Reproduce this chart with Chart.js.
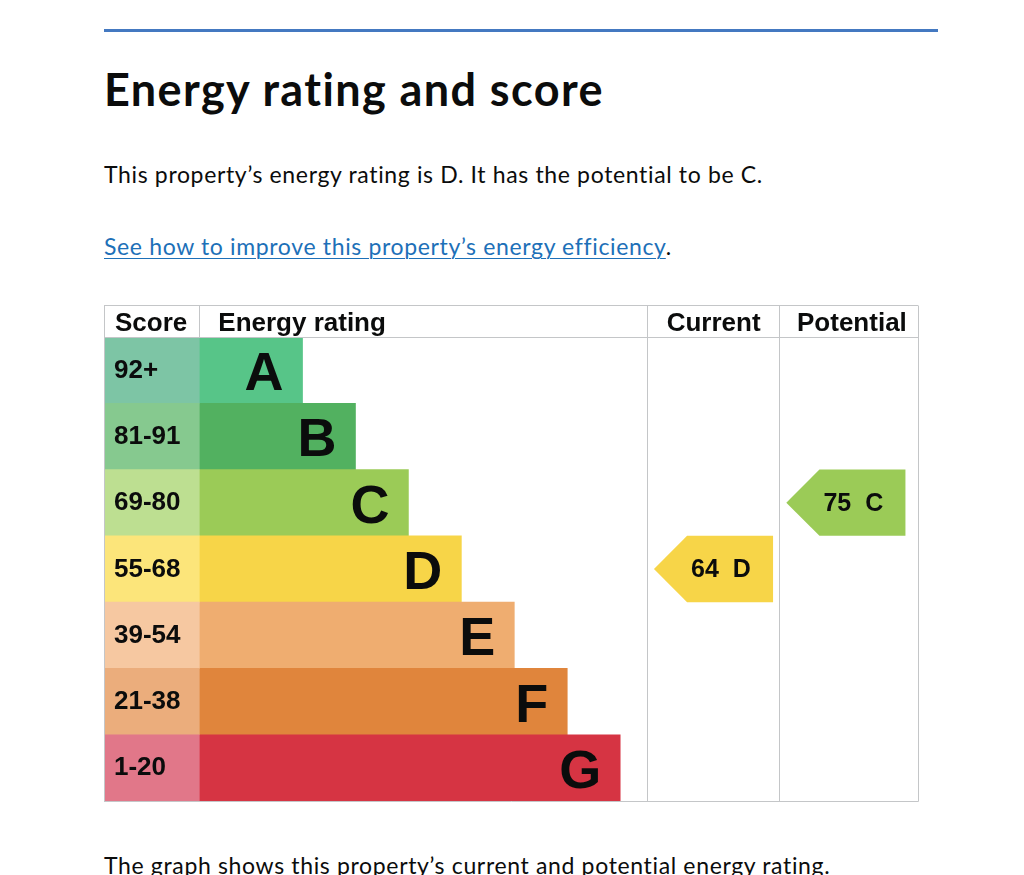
<!DOCTYPE html>
<html lang="en">
<head>
    <meta charset="UTF-8">
    <title>Energy rating and score</title>
    <script src="https://cdn.jsdelivr.net/npm/chart.js"></script>
    <style>
        body { margin: 0; background: #fff; color: #0b0c0c; font-family: Lato, Arial, sans-serif; }
        .rule { position: absolute; left: 104px; top: 29px; width: 834px; height: 3px; background: #4479c1; }
        h1 { position: absolute; left: 104px; top: 67px; margin: 0; font-size: 45px; line-height: 45px; font-weight: 700; letter-spacing: 1.4px; white-space: nowrap; }
        p { position: absolute; left: 104px; margin: 0; font-size: 23px; line-height: 23px; letter-spacing: 0.65px; white-space: nowrap; }
        a { color: #1d70b8; text-decoration: underline; text-decoration-thickness: 1px; text-underline-offset: 3px; }
        #epc { position: absolute; left: 104px; top: 305px; width: 815px; height: 497px; }
    </style>
</head>
<body>
    <div class="rule"></div>
    <h1>Energy rating and score</h1>
    <p style="top:163px">This property’s energy rating is D. It has the potential to be C.</p>
    <p style="top:235px"><a href="#">See how to improve this property’s energy efficiency</a>.</p>
    <div id="epc"><canvas id="epcChart"></canvas></div>
    <p style="top:854px">The graph shows this property’s current and potential energy rating.</p>

    <script>
        // bandas y valores del certificado
        const bands = ["A", "B", "C", "D", "E", "F", "G"];
        const scoreRanges = ["92+", "81-91", "69-80", "55-68", "39-54", "21-38", "1-20"];
        const bandMinScores = [92, 81, 69, 55, 39, 21, 1];
        const barLengths = [78, 118, 158, 198, 238, 278, 318];
        const bandColours = ["#57c588", "#52b160", "#9bcb57", "#f7d548", "#efad70", "#e0853c", "#d63443"];
        const scoreColours = ["#7dc5a5", "#86c98f", "#bddf91", "#fce57a", "#f6c8a1", "#ebad7c", "#e17789"];
        const headers = ["Score", "Energy rating", "Current", "Potential"];
        const currentScore = 64;
        const potentialScore = 75;

        const SCORE_COL = 72;
        const CURRENT_COL = [410, 510];
        const POTENTIAL_COL = [510, 615];
        const TEXT = "#0b0c0c";
        const GRID = "#c4c6c8";
        const FONT = "'Liberation Sans', Arial, sans-serif";

        function bandIndex(score) {
            return bandMinScores.findIndex(min => score >= min);
        }

        function arrowData(score, col) {
            let i = bandIndex(score);
            return bands.map((b, j) => j === i ? [col[0] + 5.5, col[0] + 95.5] : null);
        }

        let epcPlugin = {
            id: "epcTable",
            afterDatasetsDraw(chart) {
                let ctx = chart.ctx;
                let area = chart.chartArea;
                let x = chart.scales.x;
                let px = v => Math.round(x.getPixelForValue(v)) + 0.5;

                // arrows
                [[2, currentScore], [3, potentialScore]].forEach(([ds, score]) => {
                    let i = bandIndex(score);
                    let el = chart.getDatasetMeta(ds).data[i];
                    let h = el.height, half = h / 2;
                    ctx.save();
                    ctx.fillStyle = bandColours[i];
                    ctx.beginPath();
                    ctx.moveTo(el.base, el.y);
                    ctx.lineTo(el.base + half, el.y - half);
                    ctx.lineTo(el.x, el.y - half);
                    ctx.lineTo(el.x, el.y + half);
                    ctx.lineTo(el.base + half, el.y + half);
                    ctx.closePath();
                    ctx.fill();
                    ctx.fillStyle = TEXT;
                    ctx.font = "bold 25px " + FONT;
                    ctx.textAlign = "left";
                    ctx.textBaseline = "alphabetic";
                    ctx.fillText(score + "  " + bands[i], el.base + half + 4, el.y + 8);
                    ctx.restore();
                });

                // grid lines
                ctx.save();
                ctx.strokeStyle = GRID;
                ctx.lineWidth = 1;
                let line = (x1, y1, x2, y2) => {
                    ctx.beginPath();
                    ctx.moveTo(x1, y1);
                    ctx.lineTo(x2, y2);
                    ctx.stroke();
                };
                let top = 0.5, head = Math.round(area.top) + 0.5, bottom = Math.round(area.bottom) + 0.5;
                line(area.left, top, area.right, top);
                line(area.left, head, area.right, head);
                line(area.left, bottom, area.right + 0.5, bottom);
                line(px(0), top, px(0), bottom);
                line(px(615), top, px(615), bottom);
                line(px(SCORE_COL), top, px(SCORE_COL), head);
                line(px(CURRENT_COL[0]), top, px(CURRENT_COL[0]), bottom);
                line(px(POTENTIAL_COL[0]), top, px(POTENTIAL_COL[0]), bottom);
                ctx.restore();

                // header
                ctx.save();
                ctx.fillStyle = TEXT;
                ctx.font = "bold 26px " + FONT;
                ctx.textBaseline = "alphabetic";
                ctx.textAlign = "left";
                let hy = area.top - 6;
                ctx.fillText(headers[0], x.getPixelForValue(0) + 11, hy);
                ctx.fillText(headers[1], x.getPixelForValue(SCORE_COL) + 19, hy);
                ctx.fillText(headers[2], x.getPixelForValue(CURRENT_COL[0]) + 20, hy);
                ctx.fillText(headers[3], x.getPixelForValue(POTENTIAL_COL[0]) + 18, hy);

                // score ranges and band letters
                let scoreMeta = chart.getDatasetMeta(0);
                let barMeta = chart.getDatasetMeta(1);
                bands.forEach((b, i) => {
                    let cell = scoreMeta.data[i];
                    let bar = barMeta.data[i];
                    ctx.textAlign = "left";
                    ctx.font = "bold 26px " + FONT;
                    ctx.fillText(scoreRanges[i], cell.base + 10, cell.y + 7.5);
                    ctx.textAlign = "right";
                    ctx.font = "bold 54px " + FONT;
                    ctx.fillText(b, bar.x - 19, bar.y + 20);
                });
                ctx.restore();
            }
        };

        new Chart(document.getElementById("epcChart").getContext("2d"), {
            type: "bar",
            data: {
                labels: bands,
                datasets: [
                    { label: "Score", data: bands.map(() => [0, SCORE_COL]), backgroundColor: scoreColours },
                    { label: "Energy rating", data: barLengths.map(w => [SCORE_COL, SCORE_COL + w]), backgroundColor: bandColours },
                    { label: "Current", data: arrowData(currentScore, CURRENT_COL), backgroundColor: "rgba(0,0,0,0)" },
                    { label: "Potential", data: arrowData(potentialScore, POTENTIAL_COL), backgroundColor: "rgba(0,0,0,0)" }
                ]
            },
            options: {
                indexAxis: "y",
                responsive: true,
                maintainAspectRatio: false,
                animation: false,
                layout: { padding: { top: 32, right: 1, bottom: 1, left: 0 } },
                datasets: { bar: { grouped: false, barPercentage: 1, categoryPercentage: 1, borderWidth: 0 } },
                scales: {
                    x: { type: "linear", min: 0, max: 615, display: false },
                    y: { type: "category", display: false }
                },
                plugins: { legend: { display: false }, tooltip: { enabled: false } }
            },
            plugins: [epcPlugin]
        });
    </script>
</body>
</html>
